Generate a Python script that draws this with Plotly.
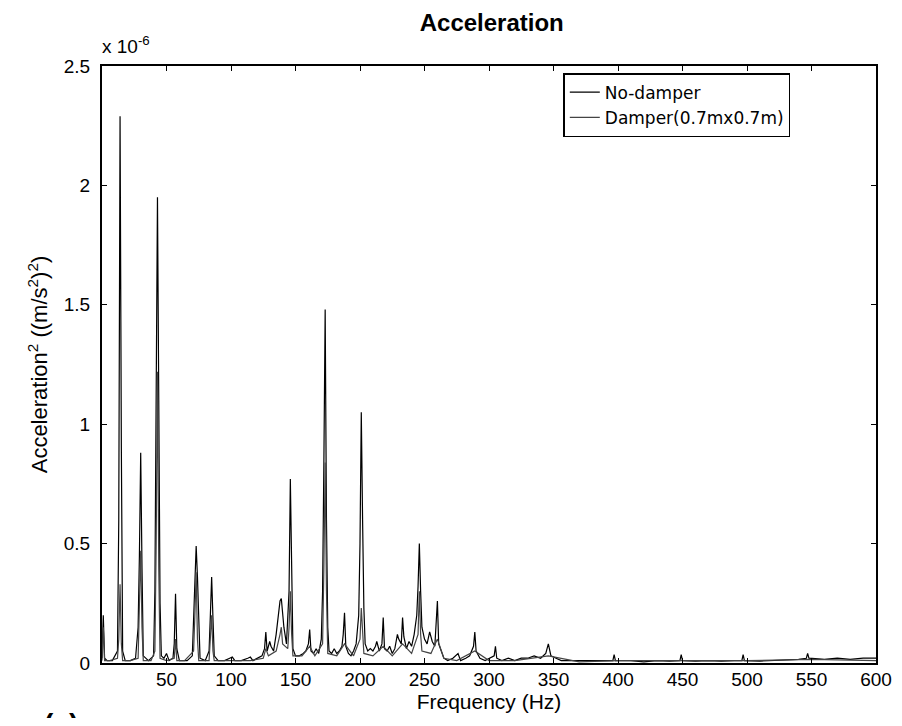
import plotly.graph_objects as go

# Frequencies (Hz) and power values (x 1e-6 (m/s^2)^2)
freq_nodamper = [0, 1, 2, 4, 8, 12, 13, 14, 15, 16, 18, 22, 26, 28, 29, 30, 31, 32, 36, 40,
                 41, 42, 43, 44, 45, 46, 48, 50, 52, 55, 56, 57, 58, 60, 66, 70, 71, 72, 73, 74,
                 75, 76, 80, 83, 84, 85, 86, 87, 90, 95, 99, 101, 103, 108, 113, 115, 117, 120, 124, 126,
                 127, 128, 130, 131, 133, 135, 137, 138, 139, 140, 141, 143, 145, 146, 147, 148, 150, 153, 156, 158,
                 160, 161, 162, 164, 166, 168, 170, 171, 172, 173, 174, 175, 176, 178, 180, 182, 184, 186, 187, 188,
                 189, 191, 193, 195, 197, 199, 200, 201, 202, 203, 204, 206, 208, 210, 212, 213, 215, 217, 218, 219,
                 221, 223, 225, 227, 229, 230, 232, 233, 234, 236, 238, 240, 242, 244, 245, 246, 247, 248, 250, 252,
                 254, 256, 258, 260, 261, 263, 265, 268, 272, 276, 278, 282, 285, 288, 289, 290, 293, 297, 300, 304,
                 305, 306, 310, 315, 320, 325, 330, 335, 340, 344, 346, 348, 352, 356, 362, 370, 380, 390, 396, 397,
                 398, 410, 420, 430, 440, 448, 449, 450, 460, 470, 480, 490, 496, 497, 498, 510, 520, 530, 540, 546,
                 547, 548, 560, 570, 580, 590, 600]
val_nodamper = [0.02, 0.2, 0.02, 0.01, 0.01, 0.05, 0.6, 2.29, 0.9, 0.05, 0.01, 0.01, 0.02, 0.15, 0.45, 0.88, 0.4, 0.03, 0.01, 0.03,
                0.3, 1.22, 1.95, 1.1, 0.25, 0.03, 0.02, 0.04, 0.01, 0.02, 0.08, 0.29, 0.06, 0.01, 0.01, 0.03, 0.2, 0.38, 0.49, 0.36,
                0.15, 0.02, 0.01, 0.05, 0.2, 0.36, 0.19, 0.03, 0.01, 0.01, 0.02, 0.025, 0.01, 0.01, 0.02, 0.025, 0.01, 0.02, 0.03, 0.06,
                0.13, 0.05, 0.09, 0.07, 0.05, 0.12, 0.2, 0.26, 0.27, 0.19, 0.15, 0.08, 0.3, 0.77, 0.35, 0.06, 0.03, 0.03, 0.04, 0.05,
                0.08, 0.14, 0.05, 0.04, 0.06, 0.04, 0.1, 0.3, 0.84, 1.48, 0.6, 0.15, 0.05, 0.04, 0.06, 0.04, 0.05, 0.07, 0.12, 0.21,
                0.07, 0.04, 0.03, 0.05, 0.08, 0.2, 0.5, 1.05, 0.6, 0.23, 0.08, 0.05, 0.06, 0.05, 0.07, 0.09, 0.05, 0.08, 0.19, 0.06,
                0.05, 0.07, 0.04, 0.06, 0.12, 0.1, 0.08, 0.19, 0.11, 0.06, 0.09, 0.07, 0.12, 0.2, 0.32, 0.5, 0.3, 0.15, 0.1, 0.08,
                0.13, 0.09, 0.07, 0.26, 0.08, 0.05, 0.02, 0.01, 0.02, 0.04, 0.01, 0.02, 0.03, 0.07, 0.13, 0.05, 0.02, 0.01, 0.02, 0.03,
                0.07, 0.02, 0.01, 0.02, 0.01, 0.02, 0.02, 0.03, 0.02, 0.04, 0.08, 0.03, 0.02, 0.01, 0.01, 0.01, 0.01, 0.01, 0.01, 0.035,
                0.01, 0.01, 0.005, 0.01, 0.008, 0.01, 0.035, 0.01, 0.008, 0.01, 0.008, 0.01, 0.01, 0.035, 0.01, 0.008, 0.01, 0.012, 0.015, 0.02,
                0.04, 0.02, 0.015, 0.02, 0.015, 0.02, 0.02]

freq_damper = [0, 1, 2, 6, 12, 13, 14, 15, 16, 22, 28, 29, 30, 31, 32, 38, 41, 42, 43, 44,
               45, 50, 56, 57, 58, 64, 71, 72, 73, 74, 75, 83, 84, 85, 86, 87, 95, 105, 115, 125,
               127, 129, 135, 138, 139, 140, 144, 145, 146, 147, 148, 155, 161, 165, 171, 172, 173, 174, 175, 182,
               188, 195, 200, 201, 202, 203, 210, 218, 225, 233, 240, 245, 246, 247, 248, 255, 260, 265, 275, 289,
               300, 320, 346, 370, 400, 450, 500, 550, 600]
val_damper = [0.01, 0.15, 0.01, 0.01, 0.02, 0.1, 0.33, 0.08, 0.01, 0.01, 0.02, 0.2, 0.47, 0.15, 0.01, 0.01, 0.05, 0.5, 1.22, 0.4,
              0.02, 0.01, 0.02, 0.1, 0.01, 0.01, 0.05, 0.2, 0.38, 0.1, 0.01, 0.01, 0.1, 0.2, 0.05, 0.01, 0.01, 0.01, 0.01, 0.02,
              0.06, 0.03, 0.05, 0.12, 0.15, 0.08, 0.06, 0.15, 0.3, 0.12, 0.03, 0.03, 0.07, 0.03, 0.08, 0.4, 0.84, 0.3, 0.04, 0.03,
              0.08, 0.03, 0.1, 0.23, 0.1, 0.04, 0.03, 0.07, 0.03, 0.08, 0.04, 0.12, 0.3, 0.12, 0.05, 0.04, 0.1, 0.02, 0.01, 0.05,
              0.01, 0.01, 0.03, 0.005, 0.01, 0.01, 0.01, 0.015, 0.01]

x_ticks = [50, 100, 150, 200, 250, 300, 350, 400, 450, 500, 550, 600]
y_ticks = [0, 0.5, 1, 1.5, 2, 2.5]
y_tick_labels = ["0", "0.5", "1", "1.5", "2", "2.5"]

FONT = "Liberation Sans, Arial, sans-serif"
WIDE = "DejaVu Sans, Verdana, sans-serif"

fig = go.Figure()
fig.add_trace(go.Scatter(x=freq_nodamper, y=val_nodamper, mode="lines", name="No-damper",
                         line=dict(color="#000000", width=1.2)))
fig.add_trace(go.Scatter(x=freq_damper, y=val_damper, mode="lines", name="Damper(0.7mx0.7m)",
                         line=dict(color="#444444", width=1.2)))

axis_common = dict(showline=True, linecolor="black", linewidth=2, mirror="ticks", ticks="inside",
                   ticklen=5, tickcolor="black", showgrid=False, zeroline=False, automargin=False,
                   tickfont=dict(family=FONT, size=19, color="black"))

# the page body adds an 8 px offset on each side; the figure is sized to fit the window
# without scrollbars, leaving enough right margin for the "600" tick label
fig.update_layout(
    width=886, height=710,
    margin=dict(l=94, r=18, t=58, b=55, autoexpand=False),
    paper_bgcolor="white", plot_bgcolor="white",
    showlegend=True,
    title=dict(text="<b>Acceleration</b>", x=0.546, xanchor="center", y=0.979, yanchor="middle",
               font=dict(family=FONT, size=24, color="black")),
    xaxis=dict(range=[0, 600], tickvals=x_ticks, ticklabelstandoff=-2, ticklabeloverflow="allow",
               **axis_common,
               title=dict(text="Frequency (Hz)", standoff=4,
                          font=dict(family=FONT, size=21, color="black"))),
    yaxis=dict(range=[0, 2.5], tickvals=y_ticks, ticktext=y_tick_labels, ticklabelstandoff=6, **axis_common,
               title=dict(text="Acceleration<sup>2</sup> ((m/s<sup>2</sup>)<sup>2</sup>)", standoff=10,
                          font=dict(family=FONT, size=22, color="black"))),
    legend=dict(x=0.596, y=0.988, xanchor="left", yanchor="top", bordercolor="black", borderwidth=1.5,
                bgcolor="white", font=dict(family=WIDE, size=17, color="black"),
                tracegroupgap=0, itemwidth=30),
    annotations=[
        dict(text="x 10<sup>-6</sup>", xref="paper", yref="paper", x=0.0, y=1.012, xanchor="left",
             yanchor="bottom", xshift=-2, showarrow=False, font=dict(family=FONT, size=19, color="black")),
        dict(text="<b>(a)</b>", xref="paper", yref="paper", x=-0.077, y=-0.072, xanchor="left",
             yanchor="top", showarrow=False, font=dict(family=FONT, size=28, color="black")),
    ],
)

fig.write_html("out.html")
